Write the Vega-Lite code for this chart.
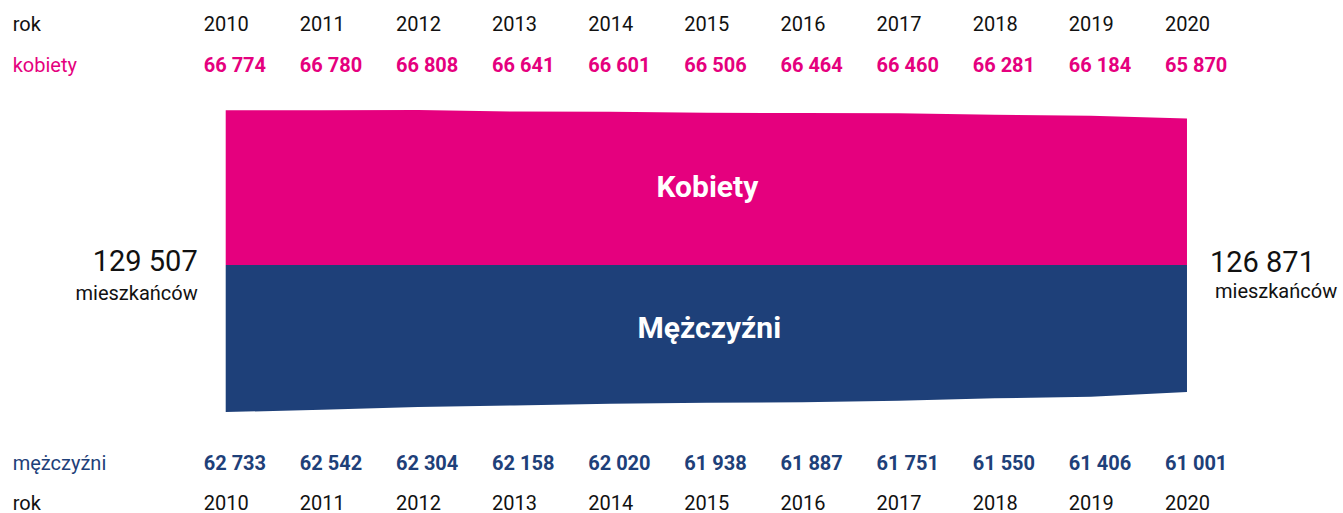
{
  "$schema": "https://vega.github.io/schema/vega-lite/v6.json",
  "padding": 0,
  "spacing": 0,
  "bounds": "flush",
  "background": "white",
  "config": {
    "view": {"stroke": null},
    "font": "Roboto",
    "text": {"font": "Roboto"},
    "locale": {"number": {"decimal": ",", "thousands": "\u00a0", "grouping": [3], "currency": ["", " zł"]}}
  },
  "datasets": {
    "pop": [
      {"year": 2010, "kobiety": 66774, "mezczyzni": 62733},
      {"year": 2011, "kobiety": 66780, "mezczyzni": 62542},
      {"year": 2012, "kobiety": 66808, "mezczyzni": 62304},
      {"year": 2013, "kobiety": 66641, "mezczyzni": 62158},
      {"year": 2014, "kobiety": 66601, "mezczyzni": 62020},
      {"year": 2015, "kobiety": 66506, "mezczyzni": 61938},
      {"year": 2016, "kobiety": 66464, "mezczyzni": 61887},
      {"year": 2017, "kobiety": 66460, "mezczyzni": 61751},
      {"year": 2018, "kobiety": 66281, "mezczyzni": 61550},
      {"year": 2019, "kobiety": 66184, "mezczyzni": 61406},
      {"year": 2020, "kobiety": 65870, "mezczyzni": 61001}
    ],
    "totals": [
      {"year": 2010, "ogolem": 129507},
      {"year": 2020, "ogolem": 126871}
    ]
  },
  "vconcat": [
    {
      "width": 1343,
      "height": 88,
      "layer": [
        {
          "data": {"name": "pop"},
          "mark": {"type": "text", "align": "left", "baseline": "middle", "fontSize": 20, "color": "#111111", "dx": -22, "dy": 1.5},
          "encoding": {
            "x": {"field": "year", "type": "quantitative", "scale": {"domain": [2007.652, 2021.623], "nice": false, "zero": false}, "axis": null},
            "y": {"datum": "rok", "type": "nominal", "scale": {"type": "point", "domain": ["rok", "kobiety"], "padding": 0.555}, "axis": null},
            "text": {"field": "year", "type": "nominal"}
          }
        },
        {
          "data": {"name": "pop"},
          "mark": {"type": "text", "align": "left", "baseline": "middle", "fontSize": 20, "fontWeight": "bold", "color": "#E5007E", "dx": -22, "dy": 1.5},
          "encoding": {
            "x": {"field": "year", "type": "quantitative", "scale": {"domain": [2007.652, 2021.623], "nice": false, "zero": false}, "axis": null},
            "y": {"datum": "kobiety", "type": "nominal", "axis": null},
            "text": {"field": "kobiety", "type": "quantitative", "format": ","}
          }
        },
        {
          "data": {"values": [{"label": "rok"}, {"label": "kobiety"}]},
          "mark": {"type": "text", "align": "left", "baseline": "middle", "fontSize": 20, "dy": 1.5},
          "encoding": {
            "x": {"datum": 2007.784, "type": "quantitative"},
            "y": {"field": "label", "type": "nominal", "axis": null},
            "text": {"field": "label", "type": "nominal"},
            "color": {"field": "label", "type": "nominal", "scale": {"domain": ["rok", "kobiety"], "range": ["#111111", "#E5007E"]}, "legend": null}
          }
        }
      ]
    },
    {
      "width": 1343,
      "height": 365,
      "layer": [
        {
          "layer": [
            {
              "data": {"name": "pop"},
              "mark": {"type": "area", "color": "#E5007E", "interpolate": "linear"},
              "encoding": {
                "x": {"field": "year", "type": "quantitative", "scale": {"domain": [2007.652, 2021.623], "nice": false, "zero": false}, "axis": null},
                "y": {"field": "kobiety", "type": "quantitative", "scale": {"domain": [29621, 69187], "nice": false, "zero": false}, "axis": null},
                "y2": {"datum": 50000}
              }
            },
            {
              "data": {"values": [{"label": "Kobiety", "year": 2015}]},
              "mark": {"type": "text", "align": "center", "baseline": "alphabetic", "fontSize": 30, "fontWeight": "bold", "color": "white", "dx": 1},
              "encoding": {
                "x": {"field": "year", "type": "quantitative"},
                "y": {"datum": 57371, "type": "quantitative"},
                "text": {"field": "label", "type": "nominal"}
              }
            }
          ]
        },
        {
          "layer": [
            {
              "data": {"name": "pop"},
              "mark": {"type": "area", "color": "#1E4079", "interpolate": "linear"},
              "encoding": {
                "x": {"field": "year", "type": "quantitative"},
                "y": {"field": "mezczyzni", "type": "quantitative", "scale": {"domain": [34672, 66281], "nice": false, "zero": false, "reverse": true}, "axis": null},
                "y2": {"datum": 50000}
              }
            },
            {
              "data": {"values": [{"label": "Mężczyźni", "year": 2015}]},
              "mark": {"type": "text", "align": "center", "baseline": "alphabetic", "fontSize": 30, "fontWeight": "bold", "color": "white", "dx": 3},
              "encoding": {
                "x": {"field": "year", "type": "quantitative"},
                "y": {"datum": 56322, "type": "quantitative"},
                "text": {"field": "label", "type": "nominal"}
              }
            }
          ]
        },
        {
          "data": {"name": "totals"},
          "layer": [
            {
              "transform": [{"filter": "datum.year == 2010"}],
              "mark": {"type": "text", "align": "right", "baseline": "alphabetic", "fontSize": 29, "color": "#111111", "dx": -28, "dy": 6},
              "encoding": {
                "x": {"field": "year", "type": "quantitative"},
                "y": {"datum": 50000, "type": "quantitative", "scale": {"domain": [29621, 69187], "nice": false, "zero": false}, "axis": null},
                "text": {"field": "ogolem", "type": "quantitative", "format": ","}
              }
            },
            {
              "transform": [{"filter": "datum.year == 2010"}],
              "mark": {"type": "text", "align": "right", "baseline": "alphabetic", "fontSize": 20, "color": "#111111", "dx": -28, "dy": 35, "text": "mieszkańców"},
              "encoding": {
                "x": {"field": "year", "type": "quantitative"},
                "y": {"datum": 50000, "type": "quantitative"}
              }
            },
            {
              "transform": [{"filter": "datum.year == 2020"}],
              "mark": {"type": "text", "align": "left", "baseline": "alphabetic", "fontSize": 29, "color": "#111111", "dx": 23, "dy": 7},
              "encoding": {
                "x": {"field": "year", "type": "quantitative"},
                "y": {"datum": 50000, "type": "quantitative"},
                "text": {"field": "ogolem", "type": "quantitative", "format": ","}
              }
            },
            {
              "transform": [{"filter": "datum.year == 2020"}],
              "mark": {"type": "text", "align": "left", "baseline": "alphabetic", "fontSize": 20, "color": "#111111", "dx": 28, "dy": 33, "text": "mieszkańców"},
              "encoding": {
                "x": {"field": "year", "type": "quantitative"},
                "y": {"datum": 50000, "type": "quantitative"}
              }
            }
          ]
        }
      ],
      "resolve": {"scale": {"y": "independent"}}
    },
    {
      "width": 1343,
      "height": 60,
      "layer": [
        {
          "data": {"name": "pop"},
          "mark": {"type": "text", "align": "left", "baseline": "middle", "fontSize": 20, "fontWeight": "bold", "color": "#1E4079", "dx": -22, "dy": 1},
          "encoding": {
            "x": {"field": "year", "type": "quantitative", "scale": {"domain": [2007.652, 2021.623], "nice": false, "zero": false}, "axis": null},
            "y": {"datum": "mężczyźni", "type": "nominal", "scale": {"type": "point", "domain": ["mężczyźni", "rok"], "padding": 0.25}, "axis": null},
            "text": {"field": "mezczyzni", "type": "quantitative", "format": ","}
          }
        },
        {
          "data": {"name": "pop"},
          "mark": {"type": "text", "align": "left", "baseline": "middle", "fontSize": 20, "color": "#111111", "dx": -22, "dy": 1},
          "encoding": {
            "x": {"field": "year", "type": "quantitative"},
            "y": {"datum": "rok", "type": "nominal", "axis": null},
            "text": {"field": "year", "type": "nominal"}
          }
        },
        {
          "data": {"values": [{"label": "mężczyźni"}, {"label": "rok"}]},
          "mark": {"type": "text", "align": "left", "baseline": "middle", "fontSize": 20, "dy": 1},
          "encoding": {
            "x": {"datum": 2007.784, "type": "quantitative"},
            "y": {"field": "label", "type": "nominal", "axis": null},
            "text": {"field": "label", "type": "nominal"},
            "color": {"field": "label", "type": "nominal", "scale": {"domain": ["mężczyźni", "rok"], "range": ["#1E4079", "#111111"]}, "legend": null}
          }
        }
      ]
    }
  ],
  "resolve": {"scale": {"x": "independent", "y": "independent", "color": "independent"}}
}
